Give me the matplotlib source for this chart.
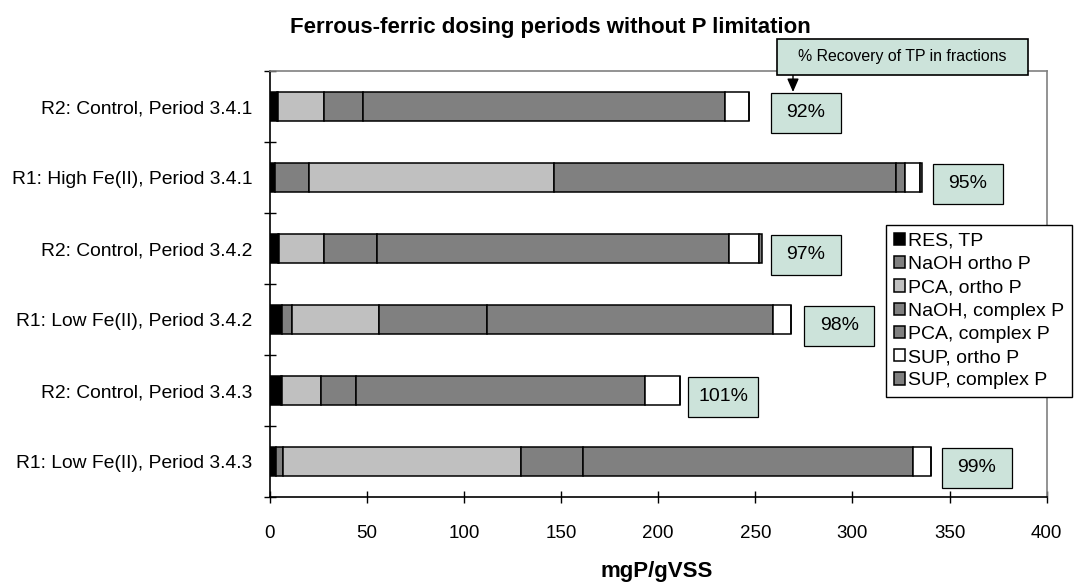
import matplotlib
matplotlib.use("Agg")
import numpy as np
import matplotlib.pyplot as plt
from matplotlib.patches import Patch, Rectangle

plt.rcParams['font.family'] = ['Liberation Sans', 'DejaVu Sans']

# ---- data -------------------------------------------------------------
periods = [
    "R2: Control, Period 3.4.1",
    "R1: High Fe(II), Period 3.4.1",
    "R2: Control, Period 3.4.2",
    "R1: Low Fe(II), Period 3.4.2",
    "R2: Control, Period 3.4.3",
    "R1: Low Fe(II), Period 3.4.3",
]
fractions = ["RES, TP", "NaOH ortho P", "PCA, ortho P", "NaOH, complex P",
             "PCA, complex P", "SUP, ortho P", "SUP, complex P"]

res_tp       = [4.0, 3.0, 4.5, 6.2, 5.7, 3.3]
naoh_ortho   = [0.5, 17.3, 0.3, 5.5, 0.5, 3.8]
pca_ortho    = [23.5, 126.1, 23.2, 44.5, 20.3, 122.4]
naoh_complex = [20.0, 176.1, 27.1, 55.9, 18.0, 32.0]
pca_complex  = [186.5, 4.7, 181.5, 146.8, 148.5, 169.6]
sup_ortho    = [12.5, 7.8, 15.1, 9.6, 18.0, 9.5]
sup_complex  = [0.0, 0.8, 1.7, 0.0, 0.0, 0.0]

recovery = ["92%", "95%", "97%", "98%", "101%", "99%"]

# ---- style / layout ---------------------------------------------------
colors = ["#000000", "#808080", "#c0c0c0", "#808080", "#808080", "#ffffff", "#808080"]
box_color = "#cce3da"
W, H = 1078, 584
label_offset = [29, 23.6, 22.5, 24.7, 22.6, 23.5]   # gap bar end -> label centre


def fx(px):
    return px / W


def fy(py):
    return 1 - py / H


fig = plt.figure(figsize=(W / 100, H / 100), dpi=100)
ax = fig.add_axes([fx(269.6), fy(497), fx(1046.7) - fx(269.6), fy(71) - fy(497)])

series = [res_tp, naoh_ortho, pca_ortho, naoh_complex, pca_complex, sup_ortho, sup_complex]
y = np.arange(len(periods))
left = np.zeros(len(periods))
for vals, col in zip(series, colors):
    ax.barh(y, vals, left=left, height=0.4, color=col, edgecolor="black", linewidth=1.1)
    left += np.array(vals)
totals = left

# recovery boxes
bw, bh = 36.0, 0.56
for i, (tot, lab) in enumerate(zip(totals, recovery)):
    cx = tot + label_offset[i]
    cy = y[i] + 0.09
    ax.add_patch(Rectangle((cx - bw / 2, cy - bh / 2), bw, bh, facecolor=box_color,
                           edgecolor="black", linewidth=0.9, clip_on=False, zorder=3))
    ax.text(cx, cy, lab, ha="center", va="center", fontsize=14, zorder=4)

ax.set_xlim(0, 400)
ax.set_ylim(len(periods) - 0.5, -0.5)
ax.set_xticks(np.arange(0, 401, 50))
ax.tick_params(axis="x", direction="inout", length=9, width=1, labelsize=13.5, pad=16)

ax.set_yticks(np.arange(-0.5, len(periods), 1.0))
ax.set_yticklabels([])
ax.set_yticks(y, minor=True)
ax.set_yticklabels(periods, minor=True)
ax.tick_params(axis="y", which="major", direction="inout", length=9, width=1)
ax.tick_params(axis="y", which="minor", length=0, labelsize=13.9, pad=12.5)

for s in ["top", "right"]:
    ax.spines[s].set_color("#808080")
    ax.spines[s].set_linewidth(1.2)
for s in ["left", "bottom"]:
    ax.spines[s].set_color("black")
    ax.spines[s].set_linewidth(1.2)

fig.text(fx(657), fy(572), "mgP/gVSS", ha="center", va="center",
         fontsize=16, fontweight="bold")
fig.text(fx(550), fy(27.5), "Ferrous-ferric dosing periods without P limitation",
         ha="center", va="center", fontsize=16, fontweight="bold")

# callout
fig.add_artist(Rectangle((fx(777), fy(75)), fx(1028) - fx(777), fy(39) - fy(75),
                         transform=fig.transFigure, facecolor=box_color,
                         edgecolor="black", linewidth=1.2, zorder=5))
fig.text(fx(902.5), fy(57), "% Recovery of TP in fractions", ha="center", va="center",
         fontsize=11.4, zorder=6)
ax.annotate("", xy=(fx(793), fy(92)), xytext=(fx(793), fy(75)),
            xycoords="figure fraction", textcoords="figure fraction",
            arrowprops=dict(arrowstyle="-|>,head_length=0.8,head_width=0.35",
                            color="black", lw=1, shrinkA=0, shrinkB=0))

handles = [Patch(facecolor=c, edgecolor="black", linewidth=1.1) for c in colors]
fig.legend(handles, fractions, loc="upper left", bbox_to_anchor=(fx(886), fy(225)),
           fontsize=14, frameon=True, fancybox=False, edgecolor="black", framealpha=1,
           handlelength=0.6, handleheight=0.6, handletextpad=0.15, labelspacing=0.32,
           borderpad=0.4, borderaxespad=0)

fig.savefig("out.png", dpi=100)
